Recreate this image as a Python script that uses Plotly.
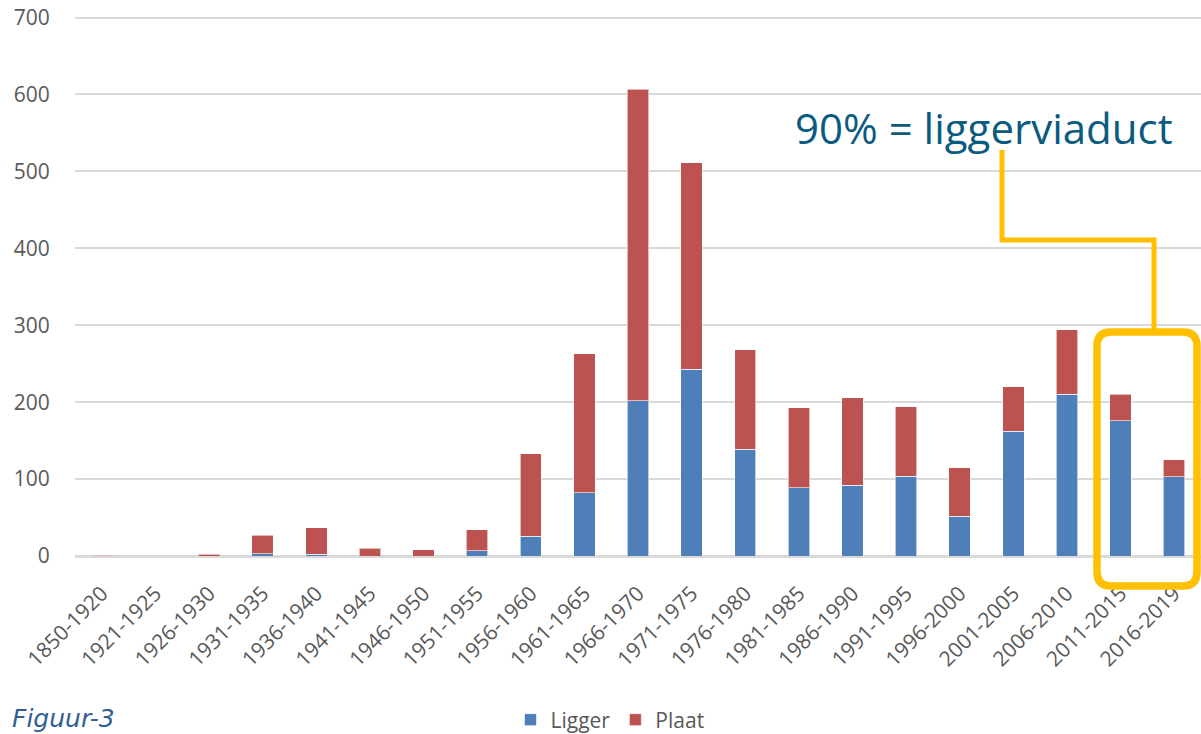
import plotly.graph_objects as go

categories = ["1850-1920", "1921-1925", "1926-1930", "1931-1935", "1936-1940",
              "1941-1945", "1946-1950", "1951-1955", "1956-1960", "1961-1965",
              "1966-1970", "1971-1975", "1976-1980", "1981-1985", "1986-1990",
              "1991-1995", "1996-2000", "2001-2005", "2006-2010", "2011-2015",
              "2016-2019"]
ligger = [0, 0, 0, 3, 2, 0, 0, 7, 26, 82, 202, 243, 139, 89, 92, 104, 52, 162, 210, 176, 103]
plaat = [1, 0, 2, 24, 35, 10, 8, 27, 107, 181, 405, 268, 129, 104, 114, 90, 63, 58, 84, 34, 22]
y_ticks = [0, 100, 200, 300, 400, 500, 600, 700]

BLUE = "#4f7fb8"
RED = "#bd5350"
GRAY_TXT = "#595959"
GRID = "#d9d9d9"
YELLOW = "#ffc000"
FONT = "Open Sans"

W, H = 1201, 734
L, R, T = 75, 0, 16
B = H - 556
PW, PH = W - L - R, H - T - B
YMAX = 702


def px(x):
    return (x - L) / PW


def py(y):
    return ((H - B) - y) / PH


fig = go.Figure()
fig.add_trace(go.Bar(name="Ligger", x=categories, y=ligger, marker_color=BLUE,
                     marker_line=dict(color="rgba(255,255,255,0.6)", width=1)))
fig.add_trace(go.Bar(name="Plaat", x=categories, y=plaat, marker_color=RED,
                     marker_line=dict(color="rgba(255,255,255,0.6)", width=1)))

# connector line
cx1, cx2 = px(1002), px(1154)
cy1, cy2, cy3 = py(150), py(240), py(332)
fig.add_shape(type="path", xref="paper", yref="paper",
              path=f"M{cx1},{cy1} L{cx1},{cy2} L{cx2},{cy2} L{cx2},{cy3}",
              line=dict(color=YELLOW, width=5))

# rounded rectangle
x0, x1 = px(1097), px(1197)
yt, yb = py(332), py(586)
rx, ry = 14 / PW, 14 / PH
path = (f"M{x0+rx},{yt} L{x1-rx},{yt} Q{x1},{yt} {x1},{yt-ry} "
        f"L{x1},{yb+ry} Q{x1},{yb} {x1-rx},{yb} "
        f"L{x0+rx},{yb} Q{x0},{yb} {x0},{yb+ry} "
        f"L{x0},{yt-ry} Q{x0},{yt} {x0+rx},{yt} Z")
fig.add_shape(type="path", xref="paper", yref="paper", path=path,
              line=dict(color=YELLOW, width=7.5), fillcolor="rgba(0,0,0,0)")

fig.add_annotation(text="90% = liggerviaduct", xref="paper", yref="paper",
                   x=px(984), y=py(127), xanchor="center", yanchor="middle",
                   showarrow=False, font=dict(family=FONT, size=42, color="#0b5a80"))

fig.add_annotation(text="<i>Figuur-3</i>", xref="paper", yref="paper",
                   x=px(10), y=py(718), xanchor="left", yanchor="middle",
                   showarrow=False, font=dict(family="DejaVu Sans", size=25, color="#2f5f90"))

fig.update_layout(
    width=W, height=H,
    barmode="stack", bargap=0.6,
    margin=dict(l=L, r=R, t=T, b=B),
    plot_bgcolor="white", paper_bgcolor="white",
    font=dict(family=FONT, size=20, color=GRAY_TXT),
    legend=dict(orientation="h", xref="paper", yref="container",
                x=px(610), y=1 - 720 / H, xanchor="center", yanchor="middle",
                font=dict(family=FONT, size=21, color=GRAY_TXT),
                itemwidth=30, traceorder="normal"),
    xaxis=dict(tickangle=-45, showgrid=False, showline=False,
               ticks="outside", ticklen=16, tickcolor="rgba(0,0,0,0)",
               tickfont=dict(family=FONT, size=21, color=GRAY_TXT),
               range=[-0.5, 20.5]),
    yaxis=dict(range=[0, YMAX], tickvals=y_ticks, showgrid=True, gridcolor=GRID,
               gridwidth=2, zeroline=True, zerolinecolor=GRID, zerolinewidth=3,
               ticks="outside", ticklen=20, tickcolor="rgba(0,0,0,0)",
               tickfont=dict(family=FONT, size=21, color=GRAY_TXT)),
)

fig.write_html("out.html", config={"displayModeBar": False},
               post_script="document.body.style.margin='0';document.body.style.overflow='hidden';")
